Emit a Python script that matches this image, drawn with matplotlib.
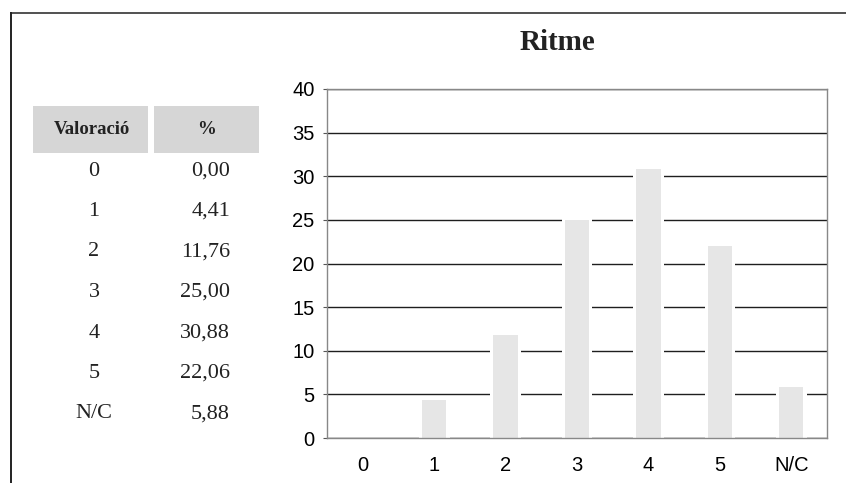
import matplotlib.pyplot as plt
from matplotlib.patches import Rectangle
from matplotlib.lines import Line2D

categories = ['0', '1', '2', '3', '4', '5', 'N/C']
values = [0.00, 4.41, 11.76, 25.00, 30.88, 22.06, 5.88]
value_labels = ['0,00', '4,41', '11,76', '25,00', '30,88', '22,06', '5,88']
yticks = [0, 5, 10, 15, 20, 25, 30, 35, 40]

W, H = 846, 483
fig = plt.figure(figsize=(W / 100, H / 100), dpi=100)

def px(x, y):
    # pixel coords (from top-left) -> figure fraction
    return x / W, 1 - y / H

# page frame: top rule and left rule
fig.add_artist(Line2D([11 / W, 1], [1 - 13 / H] * 2, color='#333333', lw=1.2))
fig.add_artist(Line2D([11 / W] * 2, [0, 1 - 13 / H], color='#222222', lw=1.4))

# table on the left
serif = 'Liberation Serif'
for x0, x1 in [(33, 148), (154, 259)]:
    fig.add_artist(Rectangle(px(x0, 153), (x1 - x0) / W, 47 / H,
                             facecolor='#d6d6d6', edgecolor='none'))
fig.text(*px(92, 129), 'Valoració', family=serif, weight='bold',
         fontsize=13.5, ha='center', va='center', color='#222222')
fig.text(*px(206, 129), '%', family=serif, weight='bold',
         fontsize=13.5, ha='center', va='center', color='#222222')
for i, (c, v) in enumerate(zip(categories, value_labels)):
    y = 171 + i * 40.5
    fig.text(*px(94, y), c, family=serif, fontsize=16,
             ha='center', va='center', color='#222222')
    fig.text(*px(230, y), v, family=serif, fontsize=16,
             ha='right', va='center', color='#222222')

# bar chart
left, right, top, bottom = 327, 827, 89, 438
ax = fig.add_axes([left / W, 1 - bottom / H, (right - left) / W, (bottom - top) / H])
x = list(range(len(categories)))
# white halo behind each bar breaks the gridlines around it
ax.bar(x, [v + 0.35 if v > 0 else 0 for v in values], width=0.43,
       color='white', linewidth=0, zorder=1.5)
ax.bar(x, values, width=0.34, color='#e6e6e6', linewidth=0, zorder=2)
ax.set_xlim(-0.5, len(categories) - 0.5)
ax.set_ylim(0, 40)
ax.set_yticks(yticks)
ax.set_xticks(x)
ax.set_xticklabels(categories)
ax.yaxis.grid(True, color='#1e1e1e', lw=1.0, zorder=1)
ax.set_axisbelow(True)
for s in ax.spines.values():
    s.set_color('#888888')
    s.set_linewidth(1.0)
    s.set_zorder(3)
ax.tick_params(axis='y', length=3, color='#555555', pad=6,
               labelsize=14.5, labelfontfamily='Liberation Sans')
ax.tick_params(axis='x', length=0, pad=13,
               labelsize=14.5, labelfontfamily='Liberation Sans')

fig.text(*px(557, 42), 'Ritme', family=serif, weight='bold',
         fontsize=21, ha='center', va='center', color='#222222')

fig.savefig('out.png', dpi=100)
